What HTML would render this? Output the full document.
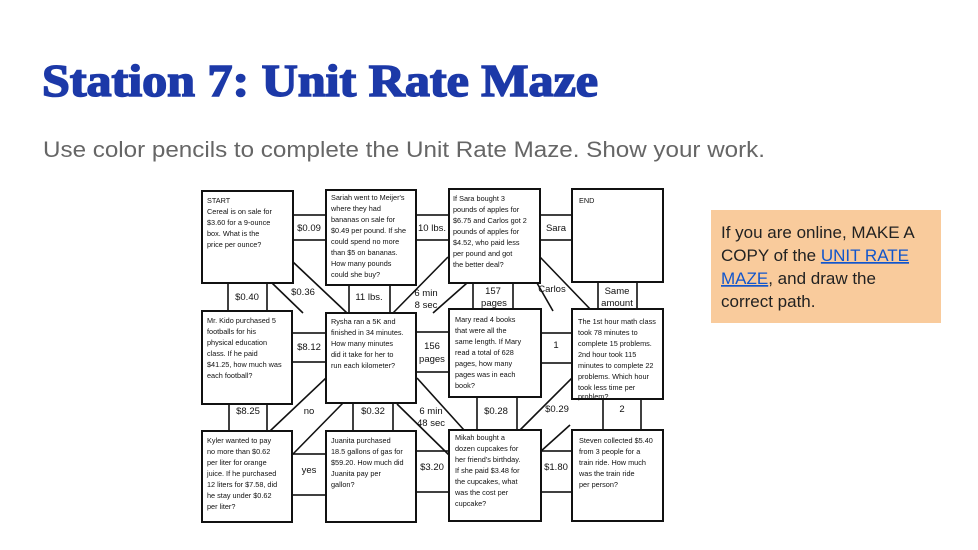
<!DOCTYPE html>
<html><head><meta charset="utf-8"><style>
html,body{margin:0;padding:0;background:#fff;width:978px;height:550px;overflow:hidden}
svg{display:block}
.t{font-family:"Liberation Sans",sans-serif;font-size:7.3px;fill:#111}
.l{font-family:"Liberation Sans",sans-serif;font-size:9.5px;fill:#111;text-anchor:middle}
</style></head><body>
<svg width="978" height="550" viewBox="0 0 978 550" xmlns="http://www.w3.org/2000/svg">
<text x="42" y="96" font-family="Liberation Serif,serif" font-weight="bold" font-size="46" fill="#1c39a8" textLength="556" lengthAdjust="spacingAndGlyphs" stroke="#1c39a8" stroke-width="1.6">Station 7: Unit Rate Maze</text>
<text x="43" y="157" font-family="Liberation Sans,sans-serif" font-size="22" fill="#666" textLength="722" lengthAdjust="spacingAndGlyphs">Use color pencils to complete the Unit Rate Maze.  Show your work.</text>

<rect x="711" y="210" width="230" height="113" fill="#f9cb9c"/>
<g font-family="Liberation Sans,sans-serif" font-size="17" fill="#222">
<text x="721" y="238">If you are online, MAKE A</text>
<text x="721" y="261">COPY of the <tspan fill="#1155cc" text-decoration="underline">UNIT RATE</tspan></text>
<text x="721" y="284"><tspan fill="#1155cc" text-decoration="underline">MAZE</tspan>, and draw the</text>
<text x="721" y="307">correct path.</text>
</g>

<g stroke="#111" stroke-width="1.6" fill="none">
<!-- diagonals -->
<line x1="293" y1="262" x2="347" y2="313"/><line x1="272" y1="283" x2="303" y2="313"/>
<line x1="448" y1="257" x2="393" y2="313"/><line x1="467" y1="283" x2="433" y2="313"/>
<line x1="540" y1="257" x2="592" y2="311"/><line x1="537" y1="283" x2="553" y2="311"/>
<line x1="270" y1="431" x2="326" y2="378"/><line x1="292" y1="455" x2="343" y2="403"/>
<line x1="417" y1="378" x2="464" y2="430"/><line x1="397" y1="404" x2="449" y2="455"/>
<line x1="520" y1="430" x2="573" y2="377"/><line x1="540" y1="452" x2="570" y2="425"/>
<line x1="512" y1="398" x2="512" y2="398"/>
<!-- horizontal connectors -->
<rect x="293" y="215" width="33" height="25"/>
<rect x="416" y="215" width="33" height="25"/>
<rect x="540" y="215" width="32" height="25"/>
<rect x="292" y="333" width="34" height="29"/>
<rect x="416" y="332" width="33" height="40"/>
<rect x="541" y="333" width="31" height="30"/>
<rect x="292" y="454" width="34" height="41"/>
<rect x="416" y="451" width="33" height="41"/>
<rect x="541" y="451" width="31" height="41"/>
<!-- vertical connectors -->
<rect x="228" y="283" width="39" height="28"/>
<rect x="349" y="285" width="41" height="28"/>
<rect x="473" y="283" width="40" height="26"/>
<rect x="598" y="282" width="39" height="27"/>
<rect x="229" y="404" width="38" height="27"/>
<rect x="353" y="403" width="40" height="28"/>
<rect x="477" y="397" width="40" height="33"/>
<rect x="603" y="399" width="38" height="31"/>
</g>
<g stroke="#111" stroke-width="2" fill="#fff">
<rect x="202" y="191" width="91" height="92"/>
<rect x="326" y="190" width="90" height="95"/>
<rect x="449" y="189" width="91" height="94"/>
<rect x="572" y="189" width="91" height="93"/>
<rect x="202" y="311" width="90" height="93"/>
<rect x="326" y="313" width="90" height="90"/>
<rect x="449" y="309" width="92" height="88"/>
<rect x="572" y="309" width="91" height="90"/>
<rect x="202" y="431" width="90" height="91"/>
<rect x="326" y="431" width="90" height="91"/>
<rect x="449" y="430" width="92" height="91"/>
<rect x="572" y="430" width="91" height="91"/>
</g>

<g class="t">
<text x="207" y="203">START</text><text x="207" y="214">Cereal is on sale for</text><text x="207" y="225">$3.60 for a 9-ounce</text><text x="207" y="236">box.  What is the</text><text x="207" y="247">price per ounce?</text>
<text x="331" y="200">Sariah went to Meijer's</text><text x="331" y="211">where they had</text><text x="331" y="222">bananas on sale for</text><text x="331" y="233">$0.49 per pound.  If she</text><text x="331" y="244">could spend no more</text><text x="331" y="255">than $5 on bananas.</text><text x="331" y="266">How many pounds</text><text x="331" y="277">could she buy?</text>
<text x="453" y="201">If Sara bought 3</text><text x="453" y="212">pounds of apples for</text><text x="453" y="223">$6.75 and Carlos got 2</text><text x="453" y="234">pounds of apples for</text><text x="453" y="245">$4.52, who paid less</text><text x="453" y="256">per pound and got</text><text x="453" y="267">the better deal?</text>
<text x="579" y="203">END</text>
<text x="207" y="323">Mr. Kido purchased 5</text><text x="207" y="334">footballs for his</text><text x="207" y="345">physical education</text><text x="207" y="356">class.  If he paid</text><text x="207" y="367">$41.25, how much was</text><text x="207" y="378">each football?</text>
<text x="331" y="324">Rysha ran a 5K and</text><text x="331" y="335">finished in 34 minutes.</text><text x="331" y="346">How many minutes</text><text x="331" y="357">did it take for her to</text><text x="331" y="368">run each kilometer?</text>
<text x="455" y="322">Mary read 4 books</text><text x="455" y="333">that were all the</text><text x="455" y="344">same length.  If Mary</text><text x="455" y="355">read a total of 628</text><text x="455" y="366">pages, how many</text><text x="455" y="377">pages was in each</text><text x="455" y="388">book?</text>
<text x="578" y="324">The 1st hour math class</text><text x="578" y="335">took 78 minutes to</text><text x="578" y="346">complete 15 problems.</text><text x="578" y="357">2nd hour took 115</text><text x="578" y="368">minutes to complete 22</text><text x="578" y="379">problems.  Which hour</text><text x="578" y="390">took less time per</text><text x="578" y="399">problem?</text>
<text x="207" y="443">Kyler wanted to pay</text><text x="207" y="454">no more than $0.62</text><text x="207" y="465">per liter for orange</text><text x="207" y="476">juice.  If he purchased</text><text x="207" y="487">12 liters for $7.58, did</text><text x="207" y="498">he stay under $0.62</text><text x="207" y="509">per liter?</text>
<text x="331" y="443">Juanita purchased</text><text x="331" y="454">18.5 gallons of gas for</text><text x="331" y="465">$59.20.  How much did</text><text x="331" y="476">Juanita pay per</text><text x="331" y="487">gallon?</text>
<text x="455" y="440">Mikah bought a</text><text x="455" y="451">dozen cupcakes for</text><text x="455" y="462">her friend's birthday.</text><text x="455" y="473">If she paid $3.48 for</text><text x="455" y="484">the cupcakes, what</text><text x="455" y="495">was the cost per</text><text x="455" y="506">cupcake?</text>
<text x="579" y="443">Steven collected $5.40</text><text x="579" y="454">from 3 people for a</text><text x="579" y="465">train ride.  How much</text><text x="579" y="476">was the train ride</text><text x="579" y="487">per person?</text>
</g>
<g class="l">
<text x="309" y="231">$0.09</text><text x="432" y="231">10 lbs.</text><text x="556" y="231">Sara</text>
<text x="247" y="300">$0.40</text><text x="303" y="295">$0.36</text><text x="369" y="300">11 lbs.</text>
<text x="426" y="296">6 min</text><text x="426" y="308">8 sec</text>
<text x="493" y="294">157</text><text x="494" y="306">pages</text>
<text x="552" y="292">Carlos</text>
<text x="617" y="294">Same</text><text x="617" y="306">amount</text>
<text x="309" y="350">$8.12</text><text x="432" y="349">156</text><text x="432" y="362">pages</text><text x="556" y="348">1</text>
<text x="248" y="414">$8.25</text><text x="309" y="414">no</text><text x="373" y="414">$0.32</text>
<text x="431" y="414">6 min</text><text x="431" y="426">48 sec</text>
<text x="496" y="414">$0.28</text><text x="557" y="412">$0.29</text><text x="622" y="412">2</text>
<text x="309" y="473">yes</text><text x="432" y="470">$3.20</text><text x="556" y="470">$1.80</text>
</g>
</svg>
</body></html>
